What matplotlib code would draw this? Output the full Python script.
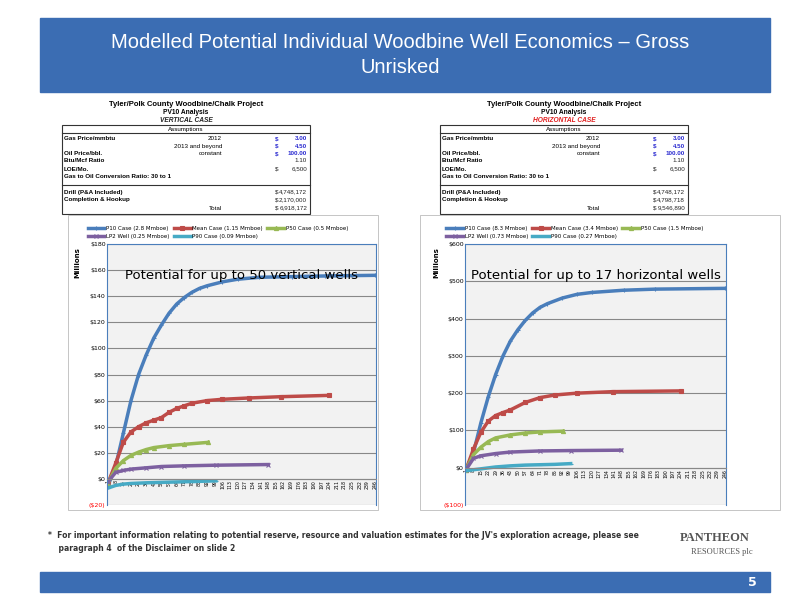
import matplotlib
matplotlib.use("Agg")
import matplotlib.pyplot as plt
from matplotlib.patches import Rectangle

# ---------------- data ----------------
L_P10_x = [1, 8, 15, 22, 29, 36, 43, 50, 57, 64, 71, 78, 85, 92, 106, 120, 140, 170, 200, 246]
L_P10_y = [-5, 10, 35, 60, 80, 95, 108, 118, 127, 134, 139, 143, 146, 148, 151, 153, 154.5, 155, 155.5, 156]
L_MEAN_x = [1, 8, 15, 22, 29, 36, 43, 50, 57, 64, 71, 78, 92, 106, 130, 160, 204]
L_MEAN_y = [-3, 12, 28, 36, 40, 43, 45, 47, 51, 54, 56, 58, 60, 61, 62, 63, 64]
L_P50_x = [1, 8, 15, 22, 29, 36, 43, 57, 71, 93]
L_P50_y = [-3, 8, 14, 18, 20.5, 22.5, 24, 25.5, 26.5, 28]
L_LP2_x = [1, 8, 15, 22, 36, 50, 71, 100, 148]
L_LP2_y = [-2, 5, 6.5, 7.5, 8.5, 9.5, 10, 10.5, 11]
L_P90_x = [1, 8, 15, 22, 36, 57, 80, 100]
L_P90_y = [-7, -5, -4, -3.5, -3, -2.5, -2, -1.5]

R_P10_x = [1, 8, 15, 22, 29, 36, 43, 50, 57, 64, 71, 78, 92, 106, 120, 150, 180, 246]
R_P10_y = [-5, 40, 120, 190, 250, 300, 340, 370, 395, 415, 430, 440, 455, 465, 470, 476, 479, 481]
R_MEAN_x = [1, 8, 15, 22, 29, 36, 43, 57, 71, 85, 106, 140, 204]
R_MEAN_y = [-5, 50, 95, 125, 140, 148, 155, 175, 188, 195, 200, 204, 206]
R_P50_x = [1, 8, 15, 22, 29, 43, 57, 71, 93]
R_P50_y = [-5, 35, 55, 70, 80, 88, 93, 96, 98]
R_LP2_x = [1, 8, 15, 29, 43, 71, 100, 148]
R_LP2_y = [-5, 25, 32, 38, 42, 45, 46, 47]
R_P90_x = [1, 15, 29, 43, 57, 71, 85, 100]
R_P90_y = [-8, -3, 2, 5, 7, 8, 9, 11]

L_labels = ["P10 Case (2.8 Mmboe)", "Mean Case (1.15 Mmboe)", "P50 Case (0.5 Mmboe)",
            "LP2 Well (0.25 Mmboe)", "P90 Case (0.09 Mmboe)"]
R_labels = ["P10 Case (8.3 Mmboe)", "Mean Case (3.4 Mmboe)", "P50 Case (1.5 Mmboe)",
            "LP2 Well (0.73 Mmboe)", "P90 Case (0.27 Mmboe)"]
x_ticks = list(range(1, 247, 7))

vert_rows = [("Gas Price/mmbtu", "2012", "$", "3.00", True),
             ("", "2013 and beyond", "$", "4.50", True),
             ("Oil Price/bbl.", "constant", "$", "100.00", True),
             ("Btu/Mcf Ratio", "", "", "1.10", False),
             ("LOE/Mo.", "", "$", "6,500", False),
             ("Gas to Oil Conversion Ratio: 30 to 1", "", "", "", False),
             ("", "", "", "", False),
             ("Drill (P&A Included)", "", "$", "4,748,172", False),
             ("Completion & Hookup", "", "$", "2,170,000", False),
             ("", "Total", "$", "6,918,172", False)]
horz_rows = [r if r[0] != "Completion & Hookup" else ("Completion & Hookup", "", "$", "4,798,718", False)
             for r in vert_rows]
horz_rows[-1] = ("", "Total", "$", "9,546,890", False)

colors = ["#4a7ebb", "#be4b48", "#98b954", "#7d60a0", "#46aac5"]
markers = ["+", "s", "^", "x", "_"]

fig = plt.figure(figsize=(8, 6), dpi=100)
W, H = 800, 600
def fx(x): return x / W
def fy(y): return 1 - y / H

fig.patches.append(Rectangle((fx(40), fy(92)), fx(730), 74 / H, transform=fig.transFigure,
                             color="#3b6db3", zorder=0))
fig.text(0.5, fy(55), "Modelled Potential Individual Woodbine Well Economics – Gross\nUnrisked",
         ha="center", va="center", color="white", fontsize=14.5, linespacing=1.4,
         family="Liberation Sans")
fig.patches.append(Rectangle((fx(40), fy(592)), fx(730), 20 / H, transform=fig.transFigure,
                             color="#3b6db3", zorder=0))
fig.text(fx(752), fy(582), "5", color="white", fontsize=9, weight="bold", ha="center", va="center")

def table(x0, rows, case, casecol):
    x1 = x0 + 248
    fig.text(fx(x0 + 124), fy(104), "Tyler/Polk County Woodbine/Chalk Project", ha="center", va="center",
             fontsize=5.5, weight="bold", family="Liberation Sans")
    fig.text(fx(x0 + 124), fy(113), "PV10 Analysis", ha="center", va="center", fontsize=4.8,
             weight="bold", family="Liberation Sans")
    fig.text(fx(x0 + 124), fy(121), case, ha="center", va="center", fontsize=4.8, weight="bold",
             style="italic", color=casecol, family="Liberation Sans")
    fig.patches.append(Rectangle((fx(x0), fy(214)), 248 / W, 89 / H, transform=fig.transFigure,
                                 fill=False, lw=0.8, ec="#333"))
    for yy in (133, 185):
        fig.lines.append(plt.Line2D([fx(x0), fx(x1)], [fy(yy), fy(yy)], transform=fig.transFigure,
                                    color="#333", lw=0.8))
    fig.text(fx(x0 + 124), fy(129), "Assumptions", ha="center", va="center", fontsize=4.5,
             family="Liberation Sans")
    ys = [139, 146, 154, 161, 169, 176, 183, 192, 200, 208]
    for (a, b, c, d, blue), yy in zip(rows, ys):
        col = "#2a2ad0" if blue else "#222"
        kw = dict(va="center", fontsize=4.5, family="Liberation Sans")
        fig.text(fx(x0 + 2), fy(yy), a, ha="left", weight="bold", **kw)
        fig.text(fx(x0 + 160), fy(yy), b, ha="right", **kw)
        fig.text(fx(x0 + 215), fy(yy), c, ha="center", color=col, weight="bold" if blue else "normal", **kw)
        fig.text(fx(x1 - 3), fy(yy), d, ha="right", color=col, weight="bold" if blue else "normal", **kw)

table(62, vert_rows, "VERTICAL CASE", "#222")
table(440, horz_rows, "HORIZONTAL CASE", "#e02020")

def chart(box, rect, series, labels, ylim, yt, note):
    fig.patches.append(Rectangle((fx(box[0]), fy(box[3])), (box[2] - box[0]) / W, (box[3] - box[1]) / H,
                                 transform=fig.transFigure, fill=False, lw=0.6, ec="#bbb"))
    ax = fig.add_axes([fx(rect[0]), fy(rect[3]), (rect[2] - rect[0]) / W, (rect[3] - rect[1]) / H])
    ax.set_facecolor("#f2f2f2")
    handles = []
    for (xs, ys), c, m, lab in zip(series, colors, markers, labels):
        h, = ax.plot(xs, ys, color=c, lw=2.5, marker=m, ms=3, mew=0.8, label=lab)
        handles.append(h)
    ax.set_xlim(0, 247)
    ax.set_ylim(*ylim)
    ax.set_yticks(yt)
    ax.set_yticklabels([f"${v}" if v >= 0 else f"(${-v})" for v in yt], fontsize=4.5)
    for t, v in zip(ax.get_yticklabels(), yt):
        if v < 0: t.set_color("red")
    ax.grid(axis="y", color="#888", lw=0.8)
    ax.set_axisbelow(True)
    ax.spines["bottom"].set_position(("data", 0))
    for s in ["top", "right", "left"]:
        ax.spines[s].set_color("#4a7ebb")
    ax.spines["bottom"].set_color("#888")
    ax.set_xticks(x_ticks)
    ax.set_xticklabels([str(v) for v in x_ticks], rotation=90, fontsize=3.3)
    ax.tick_params(length=0, pad=1)
    ax.set_ylabel("Millions", fontsize=5, weight="bold", labelpad=2)
    ax.yaxis.set_label_coords(-0.1, 0.93)
    ax.text(0.5, 0.88, note, transform=ax.transAxes, ha="center", va="center", fontsize=9.5)
    # row-wise ordering: P10, Mean, P50 / LP2, P90
    order = [0, 3, 1, 4, 2]
    ax.legend([handles[i] for i in order], [labels[i] for i in order],
              loc="lower left", bbox_to_anchor=(-0.08, 1.01), ncol=3, fontsize=4, frameon=False,
              handlelength=3, columnspacing=0.8, handletextpad=0.3, borderaxespad=0)
    return ax

chart((68, 215, 378, 510), (107, 244, 376, 505),
      [(L_P10_x, L_P10_y), (L_MEAN_x, L_MEAN_y), (L_P50_x, L_P50_y), (L_LP2_x, L_LP2_y), (L_P90_x, L_P90_y)],
      L_labels, (-20, 180), list(range(-20, 181, 20)), "Potential for up to 50 vertical wells")
chart((420, 215, 780, 510), (465, 244, 726, 505),
      [(R_P10_x, R_P10_y), (R_MEAN_x, R_MEAN_y), (R_P50_x, R_P50_y), (R_LP2_x, R_LP2_y), (R_P90_x, R_P90_y)],
      R_labels, (-100, 600), list(range(-100, 601, 100)), "Potential for up to 17 horizontal wells")

fig.text(fx(48), fy(542), "*  For important information relating to potential reserve, resource and valuation estimates for the JV's exploration acreage, please see\n    paragraph 4  of the Disclaimer on slide 2",
         ha="left", va="center", fontsize=5.5, weight="bold", color="#333", linespacing=1.7)
fig.text(fx(715), fy(538), "PANTHEON", fontsize=9, weight="bold", color="#555", ha="center", va="center",
         family="Liberation Serif")
fig.text(fx(722), fy(552), "RESOURCES plc", fontsize=6, color="#555", ha="center", va="center",
         family="Liberation Serif")

fig.savefig("out.png", dpi=100, facecolor="white")
